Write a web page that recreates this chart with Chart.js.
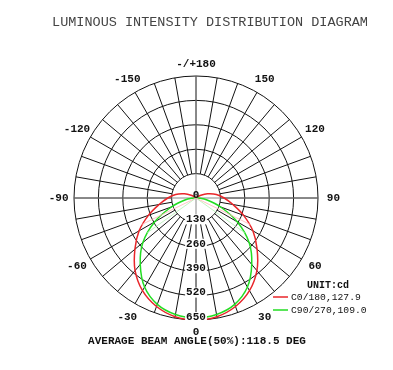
<!DOCTYPE html>
<html>
<head>
<meta charset="utf-8">
<script src="https://cdn.jsdelivr.net/npm/chart.js@4/dist/chart.umd.min.js"></script>
<style>
  body { margin: 0; background: #fff; }
  canvas { display: block; }
</style>
</head>
<body>
<canvas id="polarChart" width="393" height="370"></canvas>
<script>
// angles in degrees, 0 = straight down, + to the right
const angles = [-180, -170, -160, -150, -140, -130, -120, -110, -100, -90, -80, -70, -60, -50, -40, -30, -20, -10,
    0, 10, 20, 30, 40, 50, 60, 70, 80, 90, 100, 110, 120, 130, 140, 150, 160, 170, 180];
const c0Values = [0, 0, 0, 0, 0, 8, 30, 65, 110, 150, 200, 270, 350, 425, 505, 570, 615, 642,
    650, 642, 615, 570, 505, 425, 350, 270, 200, 150, 110, 65, 30, 8, 0, 0, 0, 0, 0];
const c90Values = [0, 0, 0, 0, 0, 0, 0, 0, 0, 12, 60, 140, 255, 370, 462, 548, 603, 630,
    638, 630, 603, 548, 462, 370, 255, 140, 60, 12, 0, 0, 0, 0, 0, 0, 0, 0, 0];
const seriesNames = ['C0/180,127.9', 'C90/270,109.0'];
const halfAngles = [63.95, 54.5];
const halfValues = [325, 319];
const ringValues = [130, 260, 390, 520, 650];
const angleLabels = ['-/+180', '-150', '-120', '-90', '-60', '-30', '0', '30', '60', '90', '120', '150'];
const angleLabelAt = [180, -150, -120, -90, -60, -30, 0, 30, 60, 90, 120, 150];

const maxR = 650;
const MONO = '"Liberation Mono", "DejaVu Sans Mono", monospace';

function toXY(deg, v) {
    const a = deg * Math.PI / 180;
    return { x: v * Math.sin(a), y: -v * Math.cos(a) };
}

function curve(vals) {
    return angles.map((a, i) => toXY(a, vals[i]));
}

function halfLine(deg, v) {
    return [toXY(-deg, v), { x: 0, y: 0 }, toXY(deg, v)];
}

// grid: rings + spokes + axes, drawn through the scales
const polarGrid = {
    id: 'polarGrid',
    beforeDatasetsDraw(chart) {
        const ctx = chart.ctx;
        const sx = chart.scales.x, sy = chart.scales.y;
        const cx = sx.getPixelForValue(0), cy = sy.getPixelForValue(0);
        const px = v => sx.getPixelForValue(v) - cx;
        ctx.save();
        ctx.strokeStyle = '#111';
        ctx.lineWidth = 1;
        ringValues.forEach(v => {
            ctx.beginPath();
            ctx.arc(cx, cy, px(v), 0, Math.PI * 2);
            ctx.stroke();
        });
        for (let a = 0; a < 360; a += 10) {
            const p1 = toXY(a, ringValues[0]), p2 = toXY(a, maxR);
            ctx.beginPath();
            ctx.moveTo(sx.getPixelForValue(p1.x), sy.getPixelForValue(p1.y));
            ctx.lineTo(sx.getPixelForValue(p2.x), sy.getPixelForValue(p2.y));
            ctx.stroke();
        }
        ctx.strokeStyle = '#888';
        ctx.beginPath();
        ctx.moveTo(sx.getPixelForValue(-maxR), cy);
        ctx.lineTo(sx.getPixelForValue(maxR), cy);
        ctx.moveTo(cx, sy.getPixelForValue(maxR));
        ctx.lineTo(cx, sy.getPixelForValue(-maxR));
        ctx.stroke();
        ctx.restore();
    },
    afterDatasetsDraw(chart) {
        const ctx = chart.ctx;
        const sx = chart.scales.x, sy = chart.scales.y;
        const cx = sx.getPixelForValue(0), cy = sy.getPixelForValue(0);
        ctx.save();
        ctx.textAlign = 'center';
        ctx.textBaseline = 'middle';

        // intensity labels down the 0 axis
        ctx.font = 'bold 11px ' + MONO;
        [0].concat(ringValues).forEach(v => {
            const y = sy.getPixelForValue(-v) - 3;
            const w = ctx.measureText(String(v)).width;
            ctx.fillStyle = '#fff';
            if (v > 0) ctx.fillRect(cx - w / 2 - 1, y - 5, w + 2, 10);
            ctx.fillStyle = '#111';
            ctx.fillText(String(v), cx, y);
        });

        // angle labels round the outside
        angleLabels.forEach((t, i) => {
            const a = angleLabelAt[i];
            const r = (a === 0 || a === 180) ? 714 : 732;
            const p = toXY(a, r);
            ctx.fillStyle = '#111';
            ctx.fillText(t, sx.getPixelForValue(p.x), sy.getPixelForValue(p.y));
        });

        // title and footer
        ctx.font = '13.5px ' + MONO;
        ctx.fillStyle = '#444';
        ctx.fillText('LUMINOUS INTENSITY DISTRIBUTION DIAGRAM', 210, 22);
        ctx.font = 'bold 11px ' + MONO;
        ctx.fillStyle = '#111';
        ctx.fillText('AVERAGE BEAM ANGLE(50%):118.5 DEG', 197, 341);

        // legend
        ctx.textAlign = 'left';
        ctx.font = 'bold 10px ' + MONO;
        ctx.fillText('UNIT:cd', 307, 285);
        ctx.font = '9.7px ' + MONO;
        const cols = ['#e8262a', '#22dd22'];
        seriesNames.forEach((n, i) => {
            const y = 297 + i * 13;
            ctx.strokeStyle = cols[i];
            ctx.lineWidth = 1.5;
            ctx.beginPath();
            ctx.moveTo(273, y);
            ctx.lineTo(288, y);
            ctx.stroke();
            ctx.fillStyle = '#111';
            ctx.fillText(n, 291, y);
        });
        ctx.restore();
    }
};

const ctx = document.getElementById('polarChart').getContext('2d');
new Chart(ctx, {
    type: 'scatter',
    data: {
        datasets: [
            {
                label: 'half C0', data: halfLine(halfAngles[0], halfValues[0]),
                showLine: true, borderColor: '#ffb4b4', borderWidth: 0.8, pointRadius: 0, tension: 0
            },
            {
                label: 'half C90', data: halfLine(halfAngles[1], halfValues[1]),
                showLine: true, borderColor: '#b4f0b4', borderWidth: 0.8, pointRadius: 0, tension: 0
            },
            {
                label: seriesNames[1], data: curve(c90Values),
                showLine: true, borderColor: '#22dd22', borderWidth: 1.5, pointRadius: 0, tension: 0.35
            },
            {
                label: seriesNames[0], data: curve(c0Values),
                showLine: true, borderColor: '#e8262a', borderWidth: 1.5, pointRadius: 0, tension: 0.35
            }
        ]
    },
    options: {
        responsive: false,
        animation: false,
        layout: { padding: { left: 74, right: 75, top: 76, bottom: 50 } },
        scales: {
            x: { type: 'linear', min: -maxR, max: maxR, display: false },
            y: { type: 'linear', min: -maxR, max: maxR, display: false }
        },
        plugins: {
            legend: { display: false },
            tooltip: { enabled: false }
        }
    },
    plugins: [polarGrid]
});
</script>
</body>
</html>
